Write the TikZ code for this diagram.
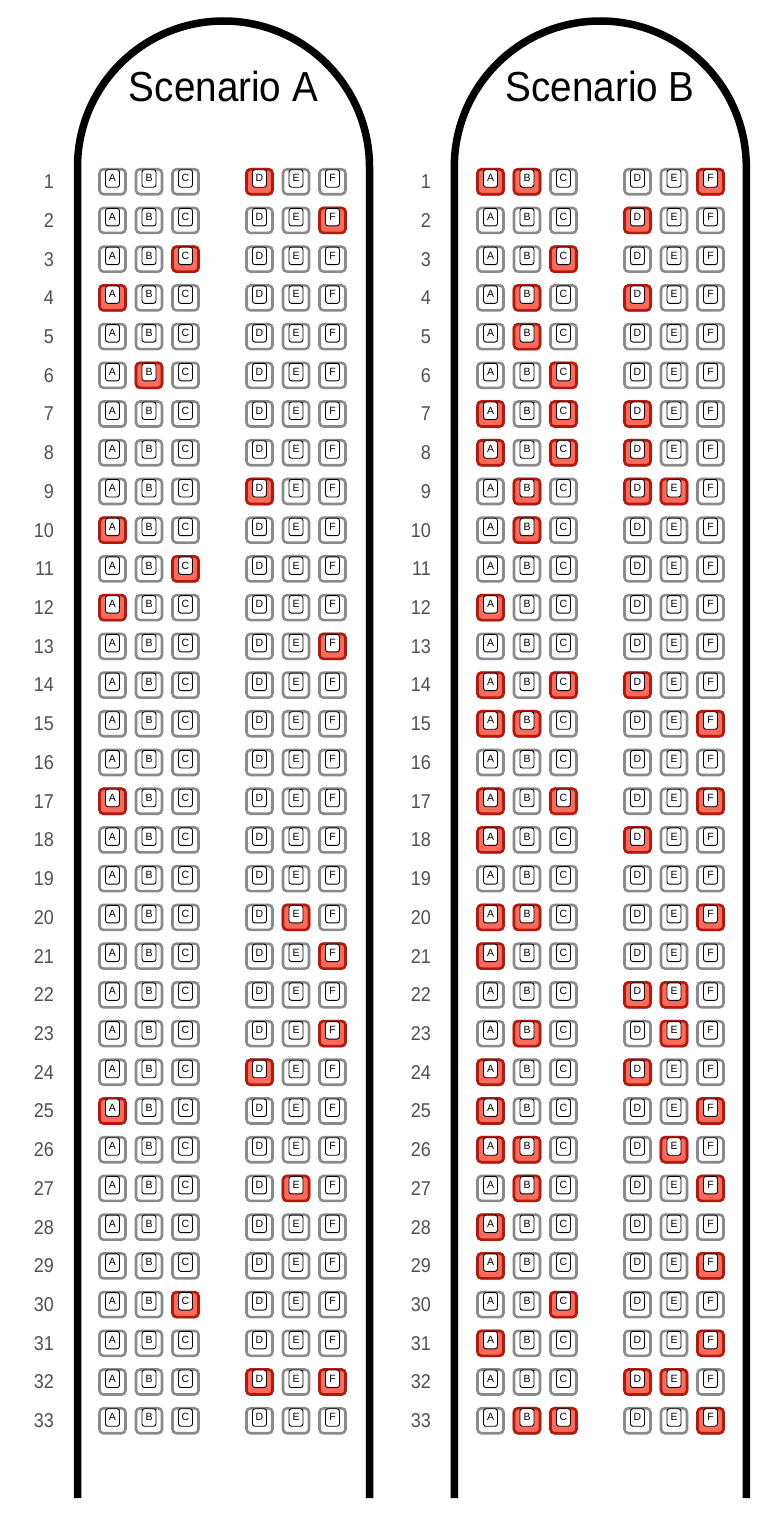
\documentclass[tikz,border=0pt]{standalone}
\usepackage{fontspec}
\setmainfont{Liberation Sans}
\usepackage{graphicx}
\definecolor{seatgray}{HTML}{8A8A8A}
\definecolor{seatred}{HTML}{FF6B5B}
\definecolor{seatdark}{HTML}{B5180C}
\definecolor{numgray}{HTML}{505050}
\def\sxA{112.5}\def\sxB{149}\def\sxC{185.5}\def\sxD{259.5}\def\sxE{296}\def\sxF{332.5}
\newcommand\myseat[4]{%
  \draw[seatout#4] ({#1-13},{#2-12.5}) rectangle ({#1+13},{#2+12.5});
  \draw[seatin] ({#1-7},{#2-12}) rectangle ({#1+7},{#2+5.5});
  \node[seatlbl] at ({#1},{#2-3.5}) {#3};
}
\begin{document}
\begin{tikzpicture}[x=1pt,y=-1pt,
  seatout/.style={draw=seatgray, line width=2.6pt, fill=white, rounded corners=4pt},
  seatoutT/.style={draw=seatdark, line width=2.6pt, fill=seatred, rounded corners=4pt},
  seatin/.style={draw=black, line width=0.9pt, fill=white, rounded corners=2.5pt},
  seatlbl/.style={inner sep=0pt, font=\fontsize{10.5}{10.5}\selectfont},
  fuse/.style={draw=black, line width=7.5pt},
  rownum/.style={anchor=east, inner sep=0pt, text=numgray, font=\fontsize{20}{20}\selectfont},
  title/.style={anchor=base, inner sep=0pt, font=\fontsize{42}{42}\selectfont}]
\useasboundingbox (0,0) rectangle (768,1536);
% fuselages
\draw[fuse] (77.5,1498) -- (77.5,167) arc[start angle=180,end angle=0,radius=146pt] -- (369.5,1498);
\draw[fuse] (454.3,1498) -- (454.3,167) arc[start angle=180,end angle=0,radius=146pt] -- (746.3,1498);
% titles
\node[title] (tA) at (223.5,102) {\scalebox{0.92}[1]{Scenario A}};
\node[title] (tB) at (600.3,102) {\scalebox{0.92}[1]{Scenario B}};
% rows
\foreach \off/\noff in {0/54, 378/431} {
  \foreach \r in {1,...,33} {
    \pgfmathsetmacro\yy{181.7+(\r-1)*38.72}
    \node[rownum] at (\noff,\yy) {\scalebox{0.9}[1]{\r}};
    \foreach \L in {A,B,C,D,E,F} {
      \pgfmathsetmacro\xx{\csname sx\L\endcsname+\off}
      \myseat{\xx}{\yy}{\L}{}
    }
  }
}
% occupied seats, scenario A
\foreach \r/\L in {1/D,2/F,3/C,4/A,6/B,9/D,10/A,11/C,12/A,13/F,17/A,20/E,21/F,23/F,24/D,25/A,27/E,30/C,32/D,32/F} {
  \pgfmathsetmacro\yy{181.7+(\r-1)*38.72}
  \pgfmathsetmacro\xx{\csname sx\L\endcsname}
  \myseat{\xx}{\yy}{\L}{T}
}
% occupied seats, scenario B
\foreach \r/\L in {1/A,1/B,1/F,2/D,3/C,4/B,4/D,5/B,6/C,7/A,7/C,7/D,8/A,8/C,8/D,9/B,9/D,9/E,10/B,12/A,14/A,14/C,14/D,15/A,15/B,15/F,17/A,17/C,17/F,18/A,18/D,20/A,20/B,20/F,21/A,22/D,22/E,23/B,23/E,24/A,24/D,25/A,25/F,26/A,26/B,26/E,27/B,27/F,28/A,29/A,29/F,30/C,31/A,31/F,32/D,32/E,33/B,33/C,33/F} {
  \pgfmathsetmacro\yy{181.7+(\r-1)*38.72}
  \pgfmathsetmacro\xx{\csname sx\L\endcsname+378}
  \myseat{\xx}{\yy}{\L}{T}
}
\end{tikzpicture}
\end{document}
